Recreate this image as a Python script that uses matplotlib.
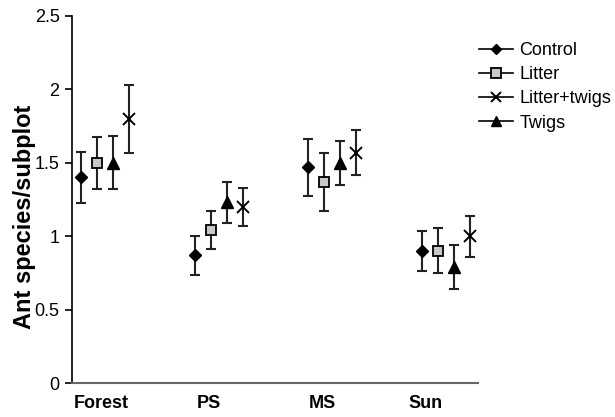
import matplotlib
matplotlib.use("Agg")
import matplotlib.pyplot as plt
from matplotlib.lines import Line2D

plt.rcParams['font.family'] = ['Liberation Sans', 'DejaVu Sans']

sites = ["Forest", "PS", "MS", "Sun"]
series = ["Control", "Litter", "Twigs", "Litter+twigs"]
legend_order = ["Control", "Litter", "Litter+twigs", "Twigs"]

means = {
    "Control":      [1.40, 0.87, 1.47, 0.90],
    "Litter":       [1.50, 1.04, 1.37, 0.90],
    "Twigs":        [1.50, 1.23, 1.50, 0.79],
    "Litter+twigs": [1.80, 1.20, 1.57, 1.00],
}
errors = {
    "Control":      [0.175, 0.134, 0.195, 0.137],
    "Litter":       [0.177, 0.130, 0.200, 0.153],
    "Twigs":        [0.180, 0.140, 0.150, 0.153],
    "Litter+twigs": [0.230, 0.128, 0.156, 0.140],
}
yticks = [0, 0.5, 1, 1.5, 2, 2.5]
ytick_labels = ["0", "0.5", "1", "1.5", "2", "2.5"]

styles = {
    "Control":      dict(marker="D", ms=6, mfc="black", mec="black"),
    "Litter":       dict(marker="s", ms=7.5, mfc="#c8c8c8", mec="black", mew=1.3),
    "Twigs":        dict(marker="^", ms=8.5, mfc="black", mec="black"),
    "Litter+twigs": dict(marker="x", ms=9, mfc="black", mec="black", mew=1.4),
}

fig = plt.figure(figsize=(6.15, 4.17), dpi=100)
ax = fig.add_axes([72/615, 34/417, 406/615, 367/417])

offsets = [-0.211, -0.070, 0.070, 0.211]
for k, s in enumerate(series):
    xs = [i + offsets[k] for i in range(len(sites))]
    ax.errorbar(xs, means[s], yerr=errors[s], fmt="none", ecolor="#222222",
                elinewidth=1.5, capsize=3.4, capthick=1.5, zorder=2)
    ax.plot(xs, means[s], linestyle="none", zorder=3, **styles[s])

ax.set_xlim(-0.29, 3.281)
ax.set_ylim(0, 2.5)
ax.set_yticks(yticks)
ax.set_yticklabels(ytick_labels, fontsize=13)
label_pos = [-0.031, 0.912, 1.912, 2.815]
ax.set_xticks(label_pos)
ax.set_xticklabels(sites, fontsize=13, fontweight="bold")
ax.tick_params(axis="x", length=0, pad=9)
ax.tick_params(axis="y", direction="out", length=5, width=1.2, pad=4)
ax.set_ylabel("Ant species/subplot", fontsize=17, fontweight="bold")
ax.yaxis.set_label_coords(-0.088, 0.452)
for sp in ["top", "right"]:
    ax.spines[sp].set_visible(False)
ax.spines["left"].set_linewidth(1.2)
ax.spines["bottom"].set_color("#666666")
ax.spines["bottom"].set_linewidth(1.5)

handles = [Line2D([0], [0], color="black", lw=1.2, **styles[s]) for s in legend_order]
for h, s in zip(handles, legend_order):
    if s == "Litter+twigs":
        h.set_markersize(7)
    else:
        h.set_markersize(styles[s]["ms"] - 1)
fig.legend(handles, legend_order, loc="upper left", bbox_to_anchor=(479/615, 1 - 42/417),
           frameon=False, fontsize=13, handlelength=1.9, labelspacing=0.4,
           handletextpad=0.35, borderaxespad=0, borderpad=0)

fig.savefig("out.png", dpi=100)
